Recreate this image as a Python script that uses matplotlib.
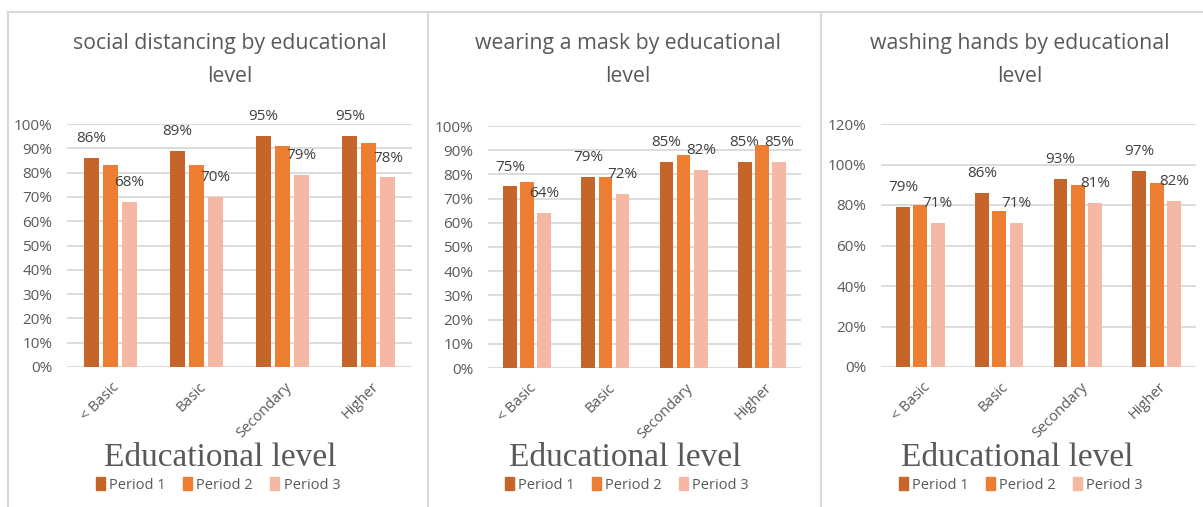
import matplotlib.pyplot as plt
from matplotlib.patches import Patch
from matplotlib.lines import Line2D
from matplotlib.ticker import PercentFormatter
from matplotlib.transforms import ScaledTranslation

# data
categories = ["< Basic", "Basic", "Secondary", "Higher"]
periods = ["Period 1", "Period 2", "Period 3"]

distancing_p1 = [0.86, 0.89, 0.95, 0.95]
distancing_p2 = [0.83, 0.83, 0.91, 0.92]
distancing_p3 = [0.68, 0.70, 0.79, 0.78]

mask_p1 = [0.75, 0.79, 0.85, 0.85]
mask_p2 = [0.77, 0.79, 0.88, 0.92]
mask_p3 = [0.64, 0.72, 0.82, 0.85]

hands_p1 = [0.79, 0.86, 0.93, 0.97]
hands_p2 = [0.80, 0.77, 0.90, 0.91]
hands_p3 = [0.71, 0.71, 0.81, 0.82]

colors = ["#C5652A", "#ED7D31", "#F4B8A5"]
grey = "#595959"
narrow = ["Liberation Sans Narrow", "Open Sans", "DejaVu Sans"]

W, H = 1203, 507
fig = plt.figure(figsize=(W / 100, H / 100), dpi=100)


def px_axes(left, right, top, bottom):
    # pixel box -> figure fraction
    return fig.add_axes([left / W, 1 - bottom / H, (right - left) / W, (bottom - top) / H])


def draw_panel(box, title, series, ymax, ystep, title_x, xlab_x, legend_x):
    ax = px_axes(*box)
    x = range(len(categories))
    offsets = [-0.22, 0.0, 0.22]
    for i, vals in enumerate(series):
        xs = [c + offsets[i] for c in x]
        ax.bar(xs, vals, width=0.175, color=colors[i], zorder=3)
        # only first and last period carry labels
        if i in (0, 2):
            for xx, v in zip(xs, vals):
                ax.annotate(f"{round(v * 100)}%", (xx, v), xytext=(0, 14),
                            textcoords="offset points", ha="center", va="center",
                            fontsize=11, color="#404040", family=narrow,
                            annotation_clip=False)
    ax.set_xlim(-0.5, len(categories) - 0.5)
    ax.set_ylim(0, ymax)
    ticks = [ystep * k for k in range(int(round(ymax / ystep)) + 1)]
    ax.set_yticks(ticks)
    ax.yaxis.set_major_formatter(PercentFormatter(1.0, decimals=0))
    ax.grid(axis="y", color="#D9D9D9", lw=1.3, zorder=0)
    for s in ax.spines.values():
        s.set_visible(False)
    ax.tick_params(length=0, colors=grey, labelsize=11)
    ax.tick_params(axis="y", pad=10.5)
    ax.tick_params(axis="x", pad=9)
    for lab in ax.get_yticklabels():
        lab.set_family(narrow)
    ax.set_xticks(list(x))
    ax.set_xticklabels(categories, rotation=45, ha="right", va="top",
                       rotation_mode="anchor", family=narrow, fontsize=10.5,
                       color=grey)
    shift = ScaledTranslation(2 / 100, 0, fig.dpi_scale_trans)
    for lab in ax.get_xticklabels():
        lab.set_transform(lab.get_transform() + shift)

    fig.text(title_x / W, 1 - 60 / H, title, ha="center", va="center",
             fontsize=15.3, color=grey, family=narrow, linespacing=1.75)
    fig.text(xlab_x / W, 1 - 458 / H, "Educational level", ha="center",
             va="center", fontsize=24, color=grey, family="Liberation Serif")
    handles = [Patch(color=c, label=p) for c, p in zip(colors, periods)]
    fig.legend(handles=handles, loc="center", ncol=3, frameon=False,
               bbox_to_anchor=(legend_x / W, 1 - 485 / H),
               handlelength=0.6, handleheight=1.0, handletextpad=0.3,
               columnspacing=1.2,
               prop={"family": narrow, "size": 10.5}, labelcolor=grey)


draw_panel((67, 412, 124, 367), "social distancing by educational\nlevel",
           [distancing_p1, distancing_p2, distancing_p3], 1.0, 0.1, 230, 220, 218)
draw_panel((488, 801, 126, 368), "wearing a mask by educational\nlevel",
           [mask_p1, mask_p2, mask_p3], 1.0, 0.1, 628, 625, 627)
draw_panel((881, 1196, 124, 367), "washing hands by educational\nlevel",
           [hands_p1, hands_p2, hands_p3], 1.2, 0.2, 1020, 1017, 1021)

# panel frames
border = "#D9D9D9"
fig.add_artist(Line2D([8 / W, 1], [1 - 12 / H] * 2, color=border, lw=1.5))
for bx in (8, 428, 821):
    fig.add_artist(Line2D([bx / W] * 2, [1 - 12 / H, 0], color=border, lw=1.5))

fig.savefig("out.png", dpi=100, facecolor="white")
